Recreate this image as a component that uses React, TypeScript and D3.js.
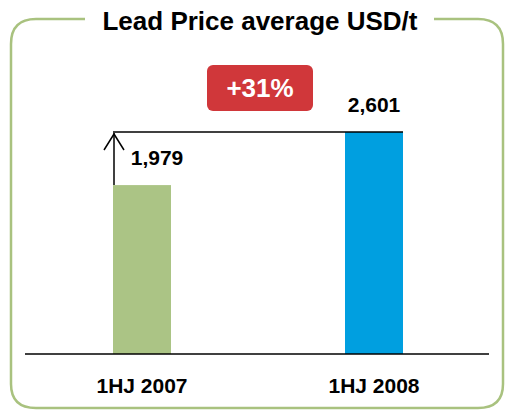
import React from 'react';
import * as d3 from 'd3';

const categories = ['1HJ 2007', '1HJ 2008'];
const values = [1979, 2601];
const valueLabels = ['1,979', '2,601'];
const barColors = ['#abc485', '#009fe0'];
const changeLabel = '+31%';
const title = 'Lead Price average USD/t';

const W = 505;
const H = 410;

const App: React.FC = () => {
  const baseY = 354;
  const y = d3.scaleLinear().domain([0, 2601]).range([baseY, 132]);
  const x = d3.scaleBand().domain(categories).range([26, 490]).paddingInner(0.75).paddingOuter(0.375);
  const font = 'Arial, "Liberation Sans", Helvetica, sans-serif';
  const x0 = x(categories[0]) || 0;
  const x1 = (x(categories[1]) || 0) + x.bandwidth();
  const topY = y(values[1]);
  const lowY = y(values[0]);

  return (
    <svg width={W} height={H} style={{ position: 'absolute', left: 0, top: 0 }} fontFamily={font}>
      <rect width={W} height={H} fill="#fff" />
      {/* frame with gap for title */}
      <path
        d={`M85,19 H36 Q11,19 11,44 V384 Q11,408 36,408 H478 Q503,408 503,384 V44 Q503,19 478,19 H434`}
        fill="none"
        stroke="#a9c27f"
        strokeWidth={2.5}
      />
      <text x={260} y={30} textAnchor="middle" fontSize={26} fontWeight="bold" fill="#000">
        {title}
      </text>
      {/* bars */}
      {categories.map((c, i) => (
        <rect
          key={c}
          x={x(c)}
          y={y(values[i])}
          width={x.bandwidth()}
          height={baseY - y(values[i])}
          fill={barColors[i]}
        />
      ))}
      {/* baseline */}
      <line x1={25} x2={489} y1={baseY} y2={baseY} stroke="#000" strokeWidth={1.5} />
      {/* reference line at top */}
      <line x1={x0} x2={x1} y1={topY} y2={topY} stroke="#000" strokeWidth={1.5} />
      {/* arrow */}
      <line x1={x0 + 1} x2={x0 + 1} y1={lowY} y2={topY + 1} stroke="#000" strokeWidth={1.5} />
      <polyline
        points={`${x0 - 9},${topY + 18} ${x0 + 1},${topY + 2} ${x0 + 11},${topY + 18}`}
        fill="none"
        stroke="#000"
        strokeWidth={1.5}
      />
      {/* value labels */}
      <text x={157} y={165} textAnchor="middle" fontSize={21} fontWeight="bold" fill="#000">
        {valueLabels[0]}
      </text>
      <text x={(x(categories[1]) || 0) + x.bandwidth() / 2} y={112} textAnchor="middle" fontSize={21} fontWeight="bold" fill="#000">
        {valueLabels[1]}
      </text>
      {/* change badge */}
      <rect x={207} y={65} width={106} height={46} rx={6} fill="#d0373a" />
      <text x={260} y={97} textAnchor="middle" fontSize={26} fontWeight="bold" fill="#fff">
        {changeLabel}
      </text>
      {/* category labels */}
      {categories.map(c => (
        <text key={c} x={(x(c) || 0) + x.bandwidth() / 2} y={393} textAnchor="middle" fontSize={21} fontWeight="bold" fill="#000">
          {c}
        </text>
      ))}
    </svg>
  );
};

export default App;
